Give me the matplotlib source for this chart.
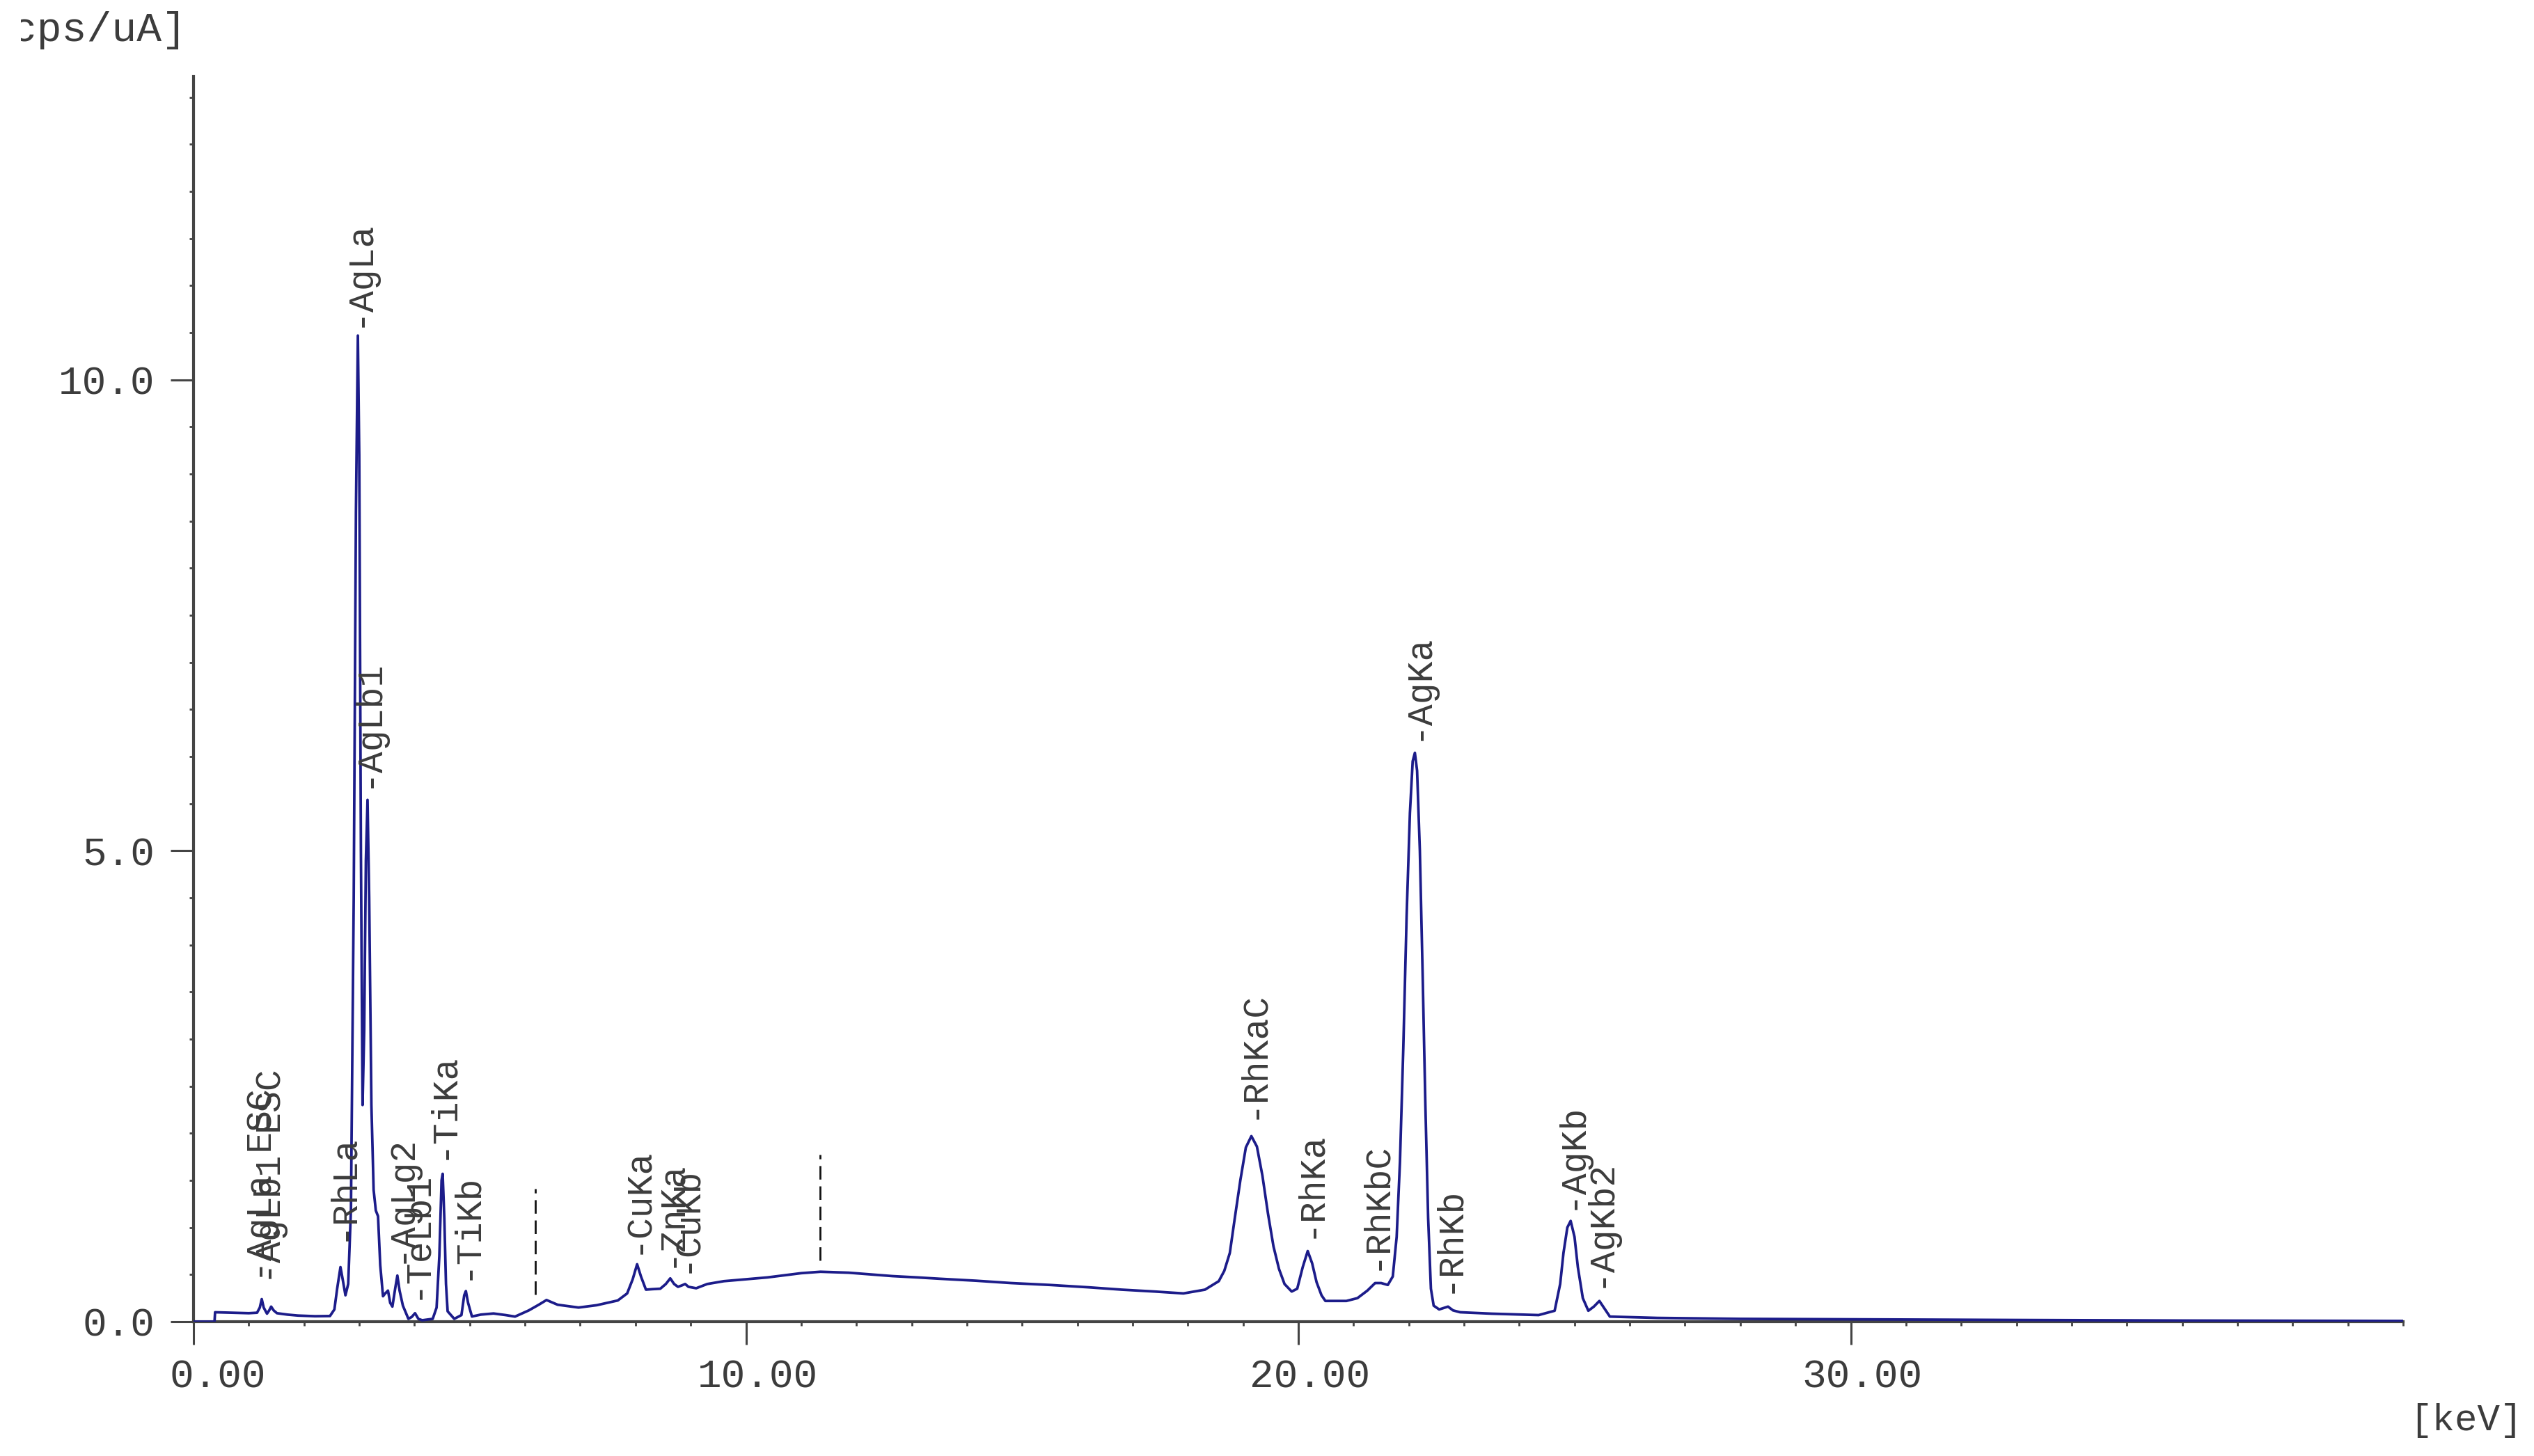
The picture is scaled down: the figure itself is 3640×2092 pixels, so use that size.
"""
XRF spectrum (cps/uA vs keV) with line labels, redrawn with matplotlib.
Saves out.png at 3641x2092.
"""

import matplotlib
matplotlib.use("Agg")
import matplotlib.pyplot as plt
from matplotlib.ticker import MultipleLocator, FixedLocator
from matplotlib.transforms import ScaledTranslation, Bbox

# ── Colours / fonts ────────────────────────────────────────────────────────────
C_LINE  = "#1c1c8a"   # navy spectrum
C_AXIS  = "#444444"
C_TEXT  = "#3c3c3c"
FONT    = ["Liberation Mono", "DejaVu Sans Mono"]

# ── Data ───────────────────────────────────────────────────────────────────────
ENERGY_KEV = [
    0.00, 0.38, 0.39, 0.70, 1.00, 1.15, 1.20, 1.235, 1.27, 1.33, 1.37, 1.405,
    1.45, 1.51, 1.70, 1.89, 2.20, 2.47, 2.55, 2.60, 2.66, 2.70, 2.75, 2.80,
    2.85, 2.90, 2.94, 2.975, 3.00, 3.03, 3.06, 3.09, 3.12, 3.15, 3.18, 3.22,
    3.26, 3.30, 3.34, 3.38, 3.43, 3.47, 3.52, 3.56, 3.60, 3.65, 3.69, 3.73,
    3.79, 3.89, 3.95, 4.01, 4.07, 4.14, 4.33, 4.40, 4.45, 4.49, 4.51, 4.54,
    4.57, 4.60, 4.72, 4.85, 4.90, 4.93, 4.97, 5.04, 5.20, 5.43, 5.65, 5.82,
    6.07, 6.25, 6.39, 6.59, 6.97, 7.30, 7.68, 7.85, 7.95, 8.03, 8.10, 8.19,
    8.30, 8.45, 8.55, 8.63, 8.70, 8.77, 8.84, 8.90, 8.96, 9.10, 9.30, 9.60,
    10.00, 10.39, 10.79, 11.00, 11.35, 11.86, 12.30, 12.65, 13.10, 13.50,
    14.16, 14.80, 15.50, 16.20, 16.80, 17.40, 17.92, 18.31, 18.56, 18.66,
    18.76, 18.85, 18.95, 19.05, 19.15, 19.25, 19.35, 19.45, 19.55, 19.65,
    19.75, 19.88, 19.98, 20.08, 20.17, 20.25, 20.33, 20.42, 20.49, 20.87,
    21.07, 21.25, 21.39, 21.50, 21.62, 21.71, 21.78, 21.84, 21.90, 21.96,
    22.02, 22.07, 22.11, 22.15, 22.20, 22.25, 22.30, 22.35, 22.40, 22.45,
    22.55, 22.71, 22.80, 22.93, 23.50, 24.35, 24.64, 24.74, 24.80, 24.87,
    24.93, 25.00, 25.06, 25.15, 25.25, 25.35, 25.45, 25.53, 25.64, 26.50,
    28.00, 30.00, 33.00, 36.00, 40.00,
]
CPS_PER_UA = [
    0.000, 0.000, 0.100, 0.095, 0.090, 0.095, 0.150, 0.240, 0.150, 0.085, 0.120, 0.160,
    0.120, 0.090, 0.075, 0.065, 0.058, 0.060, 0.130, 0.350, 0.580, 0.450, 0.280, 0.400,
    1.200, 4.500, 8.600, 10.470, 9.200, 5.000, 2.300, 3.100, 4.900, 5.540, 4.500, 2.300,
    1.400, 1.180, 1.120, 0.600, 0.270, 0.300, 0.330, 0.200, 0.160, 0.350, 0.490, 0.330,
    0.170, 0.030, 0.050, 0.090, 0.030, 0.015, 0.030, 0.150, 0.700, 1.500, 1.570, 1.100,
    0.400, 0.110, 0.030, 0.070, 0.280, 0.325, 0.200, 0.055, 0.075, 0.087, 0.070, 0.054,
    0.120, 0.180, 0.230, 0.180, 0.150, 0.175, 0.225, 0.300, 0.450, 0.610, 0.480, 0.340,
    0.345, 0.350, 0.400, 0.460, 0.400, 0.370, 0.385, 0.400, 0.370, 0.355, 0.400, 0.430,
    0.450, 0.470, 0.500, 0.515, 0.530, 0.520, 0.500, 0.484, 0.470, 0.456,
    0.435, 0.410, 0.390, 0.365, 0.340, 0.320, 0.300, 0.340, 0.430, 0.540,
    0.730, 1.100, 1.500, 1.850, 1.970, 1.860, 1.550, 1.150, 0.800, 0.560,
    0.400, 0.320, 0.350, 0.580, 0.750, 0.620, 0.420, 0.280, 0.220, 0.220,
    0.250, 0.330, 0.410, 0.410, 0.390, 0.480, 0.900, 1.700, 2.900, 4.300,
    5.400, 5.950, 6.040, 5.850, 5.000, 3.700, 2.300, 1.100, 0.350, 0.170,
    0.130, 0.160, 0.120, 0.100, 0.085, 0.070, 0.116, 0.400, 0.730, 1.000,
    1.070, 0.900, 0.580, 0.250, 0.116, 0.160, 0.220, 0.150, 0.054, 0.040,
    0.030, 0.025, 0.018, 0.012, 0.008,
]

# peak identification labels: name, line energy, height of label foot
LINE_NAMES = ["-AgLa ESC", "-AgLb1 ESC", "-RhLa", "-AgLa", "-AgLb1", "-AgLg2",
              "-TeLb1", "-TiKa", "-TiKb", "-CuKa", "-ZnKa", "-CuKb",
              "-RhKaC", "-RhKa", "-RhKbC", "-AgKa", "-RhKb", "-AgKb", "-AgKb2"]
LINE_KEV   = [1.244, 1.411, 2.697, 2.984, 3.151, 3.743,
              4.030, 4.510, 4.932, 8.040, 8.630, 8.904,
              19.17, 20.21, 21.39, 22.16, 22.72, 24.94, 25.46]
LABEL_Y    = [0.42, 0.40, 0.86, 10.56, 5.67, 0.62,
              0.24, 1.72, 0.44, 0.72, 0.58, 0.52,
              2.15, 0.89, 0.55, 6.17, 0.30, 1.19, 0.36]

# dashed marker lines: energy, bottom, top
MARK_KEV    = [6.19, 11.34]
MARK_BOTTOM = [0.29, 0.65]
MARK_TOP    = [1.41, 1.77]

# ── Figure ─────────────────────────────────────────────────────────────────────
DPI = 200
W, H = 3641, 2092
fig = plt.figure(figsize=(W / DPI, H / DPI), dpi=DPI)
fig.patch.set_facecolor("white")
ax = fig.add_axes([278 / W, 1 - 1899 / H, (3452 - 278) / W, (1899 - 110) / H])

ax.plot(ENERGY_KEV, CPS_PER_UA, color=C_LINE, lw=1.35, zorder=3)

ax.vlines(MARK_KEV, MARK_BOTTOM, MARK_TOP, colors="#111111", lw=1.0,
          linestyles=(0, (7, 3.5)), zorder=3)

for name, kev, y in zip(LINE_NAMES, LINE_KEV, LABEL_Y):
    ax.text(kev, y, name, rotation=90, rotation_mode="anchor",
            ha="left", va="center", fontsize=18.5, family=FONT,
            color=C_TEXT, zorder=4)

# ── Axes styling ───────────────────────────────────────────────────────────────
ax.set_xlim(0, 40)
ax.set_ylim(0, 13.22)
for side in ("top", "right"):
    ax.spines[side].set_visible(False)
for side in ("left", "bottom"):
    ax.spines[side].set_color(C_AXIS)
    ax.spines[side].set_linewidth(1.5)

ax.xaxis.set_major_locator(FixedLocator([0, 10, 20, 30]))
ax.xaxis.set_minor_locator(MultipleLocator(1))
ax.set_xticklabels(["0.00", "10.00", "20.00", "30.00"])
ax.yaxis.set_major_locator(FixedLocator([0, 5, 10]))
ax.yaxis.set_minor_locator(MultipleLocator(0.5))
ax.set_yticklabels(["0.0", "5.0", "10.0"])

ax.tick_params(which="major", direction="out", length=12, width=1.1,
               color=C_AXIS, labelsize=20.8, labelcolor=C_TEXT, pad=8)
ax.tick_params(which="minor", direction="out", length=2.0, width=1.0, color=C_AXIS)
ax.tick_params(axis="x", which="major", pad=7)
for lab in ax.get_xticklabels() + ax.get_yticklabels():
    lab.set_family(FONT)

# x labels sit a little right of their ticks (the first one further)
for lab, dx in zip(ax.get_xticklabels(), [12.5, 6, 6, 6]):
    lab.set_transform(lab.get_transform()
                      + ScaledTranslation(dx / 72, 0, fig.dpi_scale_trans))

# axis units; the y unit is cut by the left edge of the original screenshot
ylab = fig.text(268 / W, 1 - 59 / H, "[cps/uA]", ha="right", va="baseline",
                fontsize=21.5, family=FONT, color=C_TEXT)
ylab.set_clip_box(Bbox([[30, 0], [W, H]]))
ylab.set_clip_on(True)
fig.text(3624 / W, 1 - 2055 / H, "[keV]", ha="right", va="baseline",
         fontsize=19.5, family=FONT, color=C_TEXT)

fig.savefig("out.png", dpi=DPI, facecolor="white")
plt.close(fig)
print("Saved -> out.png")
